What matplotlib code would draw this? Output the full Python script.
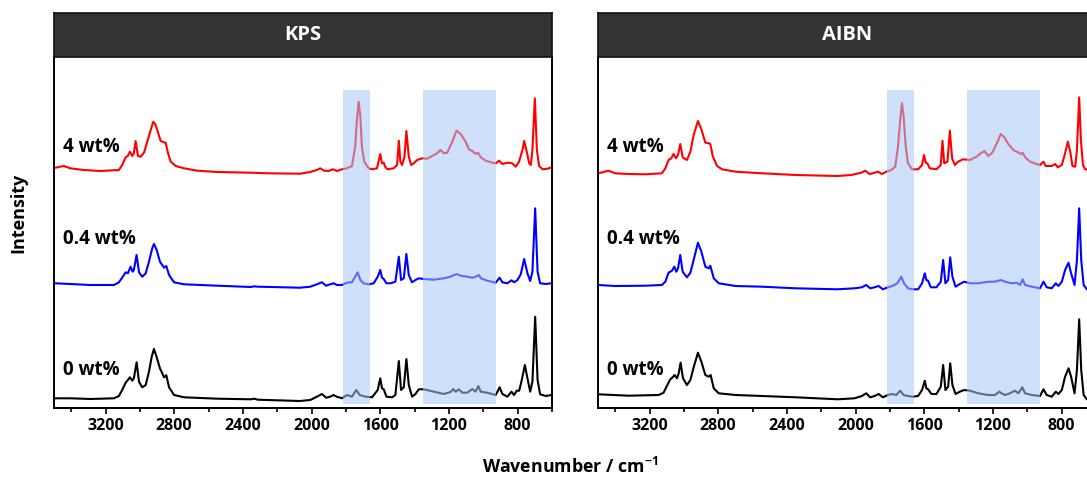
import matplotlib
matplotlib.use("Agg")
import matplotlib.pyplot as plt
from matplotlib.ticker import MultipleLocator

plt.rcParams["font.family"] = ["Open Sans", "DejaVu Sans"]
plt.rcParams["font.weight"] = "bold"
plt.rcParams["mathtext.fontset"] = "custom"
plt.rcParams["mathtext.rm"] = "Open Sans"
plt.rcParams["mathtext.bf"] = "Open Sans:bold"

# ---------------- data (wavenumber in cm-1, intensity in arbitrary units) ----------------
panels = ["KPS", "AIBN"]
loadings = ["0 wt%", "0.4 wt%", "4 wt%"]
stack_offset = [8, 124, 240]
x_ticks = [3200, 2800, 2400, 2000, 1600, 1200, 800]
highlight_bands = [(1815, 1662), (1352, 926)]

kps_0_wn = [3492, 3405, 3288, 3151, 3122, 3103, 3083, 3070, 3058, 3044, 3035, 3019, 3005, 2986,
            2966, 2947, 2931, 2918, 2902, 2883, 2859, 2846, 2830, 2801, 2743, 2548, 2353, 2334,
            2314, 2067, 2008, 1969, 1940, 1915, 1892, 1872, 1853, 1823, 1794, 1765, 1740, 1720,
            1687, 1648, 1615, 1600, 1590, 1580, 1564, 1531, 1512, 1492, 1479, 1463, 1448, 1434,
            1415, 1395, 1376, 1346, 1288, 1230, 1191, 1175, 1161, 1142, 1122, 1093, 1064, 1045,
            1029, 1015, 977, 928, 905, 889, 860, 836, 821, 805, 791, 776, 758, 743, 727, 714,
            698, 684, 669, 636, 603]
kps_0_int = [1.7, 1.7, 1.0, 1.7, 4.0, 10.0, 17.3, 20.0, 22.7, 19.3, 21.7, 37.7, 18.3, 12.7,
             15.0, 28.3, 43.3, 51.0, 42.7, 31.7, 22.7, 24.7, 12.7, 5.0, 2.7, 1.3, 0.7, 1.3,
             0.3, -1.0, 0.0, 3.3, 6.0, 2.3, 3.3, 5.0, 3.3, 1.7, 5.0, 3.3, 10.0, 5.0,
             3.3, 2.7, 10.0, 21.7, 11.7, 10.7, 3.3, 2.7, 5.0, 39.0, 10.0, 12.7, 41.0, 15.0,
             3.3, 6.0, 10.7, 10.7, 8.3, 6.0, 8.0, 11.0, 8.3, 10.7, 7.3, 7.3, 11.0, 8.3,
             14.0, 8.3, 7.3, 5.0, 12.7, 6.0, 3.3, 8.3, 5.0, 9.3, 9.3, 20.0, 35.0, 21.7, 8.3, 18.3,
             83.3, 20.0, 5.7, 4.0, 5.0]

kps_04_wn = [3492, 3405, 3288, 3151, 3122, 3103, 3083, 3070, 3054, 3042, 3035, 3019, 3005, 2986,
             2966, 2947, 2928, 2918, 2902, 2883, 2859, 2846, 2830, 2801, 2743, 2548, 2353, 2334,
             2314, 2067, 2008, 1969, 1940, 1915, 1892, 1872, 1853, 1823, 1794, 1765, 1746, 1732,
             1716, 1697, 1668, 1638, 1615, 1600, 1590, 1580, 1564, 1541, 1512, 1492, 1479, 1463,
             1448, 1434, 1415, 1395, 1376, 1346, 1288, 1230, 1191, 1156, 1132, 1093, 1064, 1045,
             1025, 1015, 977, 928, 905, 889, 860, 836, 821, 801, 782, 762, 743, 727, 714, 698,
             684, 669, 636, 603]
kps_04_int = [0.7, 0.0, -1.0, -1.0, 1.7, 6.3, 11.7, 10.7, 17.3, 12.3, 14.0, 29.0, 11.7, 7.3,
              10.7, 22.3, 35.7, 40.0, 34.0, 22.3, 16.3, 18.0, 9.0, 1.7, -0.3, -1.7, -3.0, -2.3,
              -2.7, -3.7, -2.7, -0.3, 1.7, -1.7, -0.3, 0.7, -1.0, -1.0, 1.3, 1.7, 7.3, 11.7,
              4.0, 0.7, -0.3, 0.7, 7.3, 14.0, 6.3, 5.0, 0.7, 0.7, 2.3, 27.3, 4.0, 5.7,
              30.0, 9.0, 1.7, 4.0, 5.7, 5.0, 4.3, 5.7, 7.3, 10.0, 8.3, 7.3, 6.3, 7.3,
              9.0, 5.7, 3.3, 1.3, 6.3, 1.7, 0.7, 3.7, 1.7, 4.0, 9.7, 25.0, 10.7, 3.0, 12.3, 75.7,
              12.3, 0.7, 0.0, 0.7]

kps_4_wn = [3492, 3443, 3405, 3327, 3229, 3122, 3103, 3083, 3070, 3058, 3044, 3035, 3025, 3011,
            2996, 2976, 2957, 2937, 2922, 2908, 2894, 2879, 2859, 2850, 2836, 2820, 2791, 2743,
            2665, 2548, 2353, 2256, 2067, 2008, 1969, 1950, 1927, 1901, 1876, 1853, 1823, 1794,
            1765, 1746, 1736, 1726, 1716, 1707, 1693, 1668, 1648, 1619, 1600, 1590, 1580, 1570,
            1557, 1522, 1502, 1492, 1483, 1473, 1459, 1448, 1434, 1420, 1405, 1385, 1356, 1327,
            1298, 1269, 1249, 1230, 1210, 1181, 1156, 1132, 1103, 1084, 1064, 1045, 1031, 1015,
            986, 947, 928, 908, 889, 860, 831, 811, 792, 772, 762, 747, 733, 723, 714, 700,
            688, 675, 655, 626, 603]
kps_4_int = [0.3, 2.0, -0.3, -2.0, -3.0, -2.0, 3.0, 10.7, 12.0, 16.3, 12.0, 14.7, 27.0, 12.0,
             11.3, 15.3, 26.3, 38.0, 46.3, 43.0, 35.3, 27.0, 25.7, 25.3, 14.7, 6.3, 2.0, -0.3,
             -2.7, -4.0, -4.7, -5.3, -5.7, -4.0, -2.0, -0.3, -2.7, -3.0, -1.3, -3.0, -1.3, -0.3,
             2.0, 21.3, 48.0, 66.3, 51.3, 21.3, 6.3, -0.3, -1.3, -0.3, 14.0, 4.7, 5.3, 0.7,
             -1.3, -0.3, 3.0, 27.3, 6.3, 3.0, 11.3, 37.0, 11.3, 3.0, 4.7, 8.0, 9.7, 9.3,
             12.0, 14.7, 18.0, 14.7, 15.3, 26.3, 37.3, 34.0, 26.3, 18.7, 17.0, 14.0, 15.3, 10.7,
             7.3, 5.3, 4.7, 7.3, 4.0, 5.3, 4.7, 1.3, 6.3, 18.0, 27.0, 16.3, 4.7, 3.0, 18.0, 69.7,
             18.0, 2.0, -1.3, -0.7, 0.7]

aibn_0_wn = [3498, 3323, 3147, 3118, 3099, 3079, 3065, 3054, 3040, 3030, 3019, 3005, 2982, 2962,
             2943, 2918, 2898, 2875, 2855, 2844, 2826, 2797, 2699, 2544, 2349, 2104, 2006, 1963,
             1938, 1915, 1889, 1866, 1841, 1812, 1786, 1763, 1740, 1720, 1695, 1666, 1636, 1613,
             1597, 1588, 1578, 1558, 1529, 1504, 1490, 1477, 1461, 1449, 1436, 1418, 1393, 1368,
             1334, 1286, 1227, 1188, 1163, 1150, 1130, 1101, 1072, 1052, 1029, 1013, 974, 926,
             906, 887, 858, 834, 819, 799, 780, 760, 745, 725, 711, 698, 686, 672, 653, 643]
aibn_0_int = [5.7, 4.3, 5.0, 7.3, 14.0, 20.7, 22.7, 25.0, 21.7, 26.7, 37.3, 21.7, 15.0, 20.0,
              32.7, 47.3, 38.3, 25.0, 23.3, 25.0, 11.7, 6.7, 5.0, 4.0, 2.7, 0.7, 1.7, 4.0,
              6.7, 2.7, 4.0, 6.0, 2.7, 5.0, 6.0, 5.0, 9.3, 5.0, 4.0, 3.3, 4.0, 10.0,
              19.3, 11.7, 10.7, 6.0, 6.0, 13.3, 35.0, 10.0, 13.3, 36.7, 15.0, 6.0, 8.3, 10.0,
              9.3, 6.7, 5.0, 5.0, 8.3, 6.7, 5.0, 6.7, 9.3, 6.7, 12.7, 6.7, 5.0, 4.0,
              10.7, 5.0, 3.3, 8.3, 6.0, 10.0, 23.3, 31.7, 23.3, 6.7, 30.0, 80.7, 30.0, 5.0, 0.7, 0.7]

aibn_04_wn = [3498, 3400, 3225, 3128, 3108, 3089, 3069, 3056, 3044, 3034, 3021, 3007, 2982, 2962,
              2943, 2918, 2898, 2875, 2855, 2846, 2826, 2797, 2699, 2544, 2349, 2104, 2006, 1963,
              1938, 1915, 1889, 1866, 1841, 1812, 1786, 1757, 1734, 1718, 1695, 1666, 1636, 1613,
              1597, 1588, 1578, 1562, 1529, 1504, 1490, 1477, 1461, 1449, 1436, 1418, 1393, 1368,
              1334, 1286, 1227, 1188, 1154, 1130, 1091, 1062, 1042, 1027, 1013, 974, 926, 906,
              887, 858, 834, 819, 799, 780, 760, 745, 725, 711, 698, 686, 672, 653, 643]
aibn_04_int = [-1.0, -2.0, -1.7, -1.0, 2.3, 11.3, 13.3, 17.3, 12.3, 15.7, 29.0, 12.3, 6.7, 11.3,
               24.0, 41.3, 32.3, 17.3, 15.7, 18.3, 5.7, 0.7, -2.0, -2.7, -4.3, -5.3, -4.3, -3.3,
               -1.0, -4.3, -3.3, -2.0, -5.3, -3.3, -2.0, 0.7, 7.3, 0.7, -4.3, -5.3, -5.3, 0.7,
               10.7, 4.0, 3.3, -3.3, -3.3, 2.3, 24.0, 0.7, 4.0, 26.7, 7.3, -2.7, 0.0, 2.3,
               0.7, 0.7, 2.3, 2.3, 4.0, 2.3, 0.7, 1.3, -1.0, 4.7, -1.0, -2.7, -4.3, 2.3,
               -3.3, -4.3, 0.7, -2.0, 2.3, 14.0, 21.3, 10.7, -1.0, 24.0, 75.7, 24.0, -1.0, -5.3, -5.0]

aibn_4_wn = [3498, 3439, 3400, 3323, 3225, 3128, 3108, 3089, 3073, 3060, 3046, 3034, 3021, 3007,
             2982, 2962, 2943, 2918, 2898, 2875, 2855, 2846, 2832, 2807, 2777, 2699, 2544, 2349,
             2104, 2026, 1967, 1944, 1919, 1889, 1870, 1847, 1821, 1792, 1769, 1753, 1740, 1730,
             1720, 1708, 1695, 1671, 1636, 1613, 1601, 1592, 1582, 1568, 1529, 1504, 1494, 1484,
             1465, 1451, 1438, 1422, 1403, 1374, 1334, 1296, 1276, 1251, 1227, 1204, 1173, 1155,
             1134, 1111, 1081, 1062, 1037, 1027, 1013, 984, 945, 926, 906, 893, 858, 838, 822,
             799, 780, 764, 750, 737, 721, 711, 698, 688, 676, 663, 643]
aibn_4_int = [-5.3, -2.7, -5.3, -6.0, -6.3, -5.3, -0.3, 8.0, 9.7, 14.0, 9.7, 13.0, 24.0, 10.7,
              8.0, 16.3, 33.0, 47.0, 38.7, 25.3, 24.7, 24.0, 12.0, 2.0, -1.3, -3.7, -5.3, -7.0,
              -8.0, -7.0, -4.7, -2.7, -6.0, -4.7, -3.7, -6.0, -3.7, -2.0, 1.3, 21.3, 48.0, 64.7,
              51.3, 21.3, 4.7, -1.3, -1.3, 3.0, 13.0, 5.3, 4.7, -0.3, -1.3, 3.0, 27.3, 4.7,
              6.3, 37.3, 9.7, 3.0, 6.3, 8.7, 8.0, 11.3, 14.0, 17.0, 12.0, 15.3, 26.3, 34.0,
              30.7, 24.0, 18.0, 16.3, 14.0, 15.3, 10.7, 6.3, 4.0, 3.0, 6.3, 2.0, 2.0, 4.0, 0.7,
              3.0, 14.7, 26.3, 16.3, 2.0, 1.3, 18.0, 70.7, 28.0, 3.0, -1.3, -2.0]

spectra = {
    "KPS": [(kps_0_wn, kps_0_int), (kps_04_wn, kps_04_int), (kps_4_wn, kps_4_int)],
    "AIBN": [(aibn_0_wn, aibn_0_int), (aibn_04_wn, aibn_04_int), (aibn_4_wn, aibn_4_int)],
}

# ---------------- styling ----------------
line_colors = ["#000000", "#0000ff", "#ff0000"]
band_color = "#a6c7f6"
header_color = "#333333"
W, H = 1087, 478

fig = plt.figure(figsize=(W / 100, H / 100), dpi=100)

def fx(px):
    return px / W

def fy(px):
    return 1 - px / H

ax_top, ax_bottom, head_top = 57, 408, 13
axes_lefts = [54, 598]
axes_width = 498

for name, left in zip(panels, axes_lefts):
    ax = fig.add_axes([fx(left), fy(ax_bottom), fx(axes_width), fy(ax_top) - fy(ax_bottom)])
    for (wn, inten), off, col in zip(spectra[name], stack_offset, line_colors):
        ax.plot(wn, [v + off for v in inten], color=col, lw=1.5, zorder=2,
                solid_joinstyle="round")
    for hi, lo in highlight_bands:
        ax.axvspan(lo, hi, ymin=0.011, ymax=0.906, color=band_color, alpha=0.55,
                   lw=0, zorder=3)
    label_y = [33, 164, 256]
    for lab, yy in zip(loadings, label_y):
        ax.text(3445, yy, lab, fontsize=13.5, fontweight="bold", va="baseline",
                ha="left", zorder=4)
    ax.set_xlim(3500, 600)
    ax.set_ylim(0, 351)
    ax.set_xticks(x_ticks)
    ax.xaxis.set_minor_locator(MultipleLocator(200))
    ax.tick_params(axis="x", which="both", direction="out", length=4, width=1.2,
                   labelsize=11.5, pad=3)
    ax.tick_params(axis="x", which="minor", length=3)
    for t in ax.get_xticklabels():
        t.set_fontweight("bold")
    ax.set_yticks([])
    for s in ax.spines.values():
        s.set_linewidth(1.4)
    ax.spines["top"].set_visible(False)

    hax = fig.add_axes([fx(left), fy(ax_top), fx(axes_width), fy(head_top) - fy(ax_top)])
    hax.set_facecolor(header_color)
    hax.set_xticks([])
    hax.set_yticks([])
    for s in hax.spines.values():
        s.set_color("#111111")
        s.set_linewidth(1.2)
    hax.text(0.5, 0.5, name, color="white", fontsize=14.5, fontweight="bold",
             ha="center", va="center", transform=hax.transAxes)

fig.text(fx(18), fy(213), "Intensity", rotation=90, fontsize=13, fontweight="bold",
         ha="center", va="center")
fig.text(fx(570), fy(467), r"Wavenumber / cm$^{\mathbf{-1}}$", fontsize=12.8,
         fontweight="bold", ha="center", va="center")

fig.savefig("out.png", dpi=100)
